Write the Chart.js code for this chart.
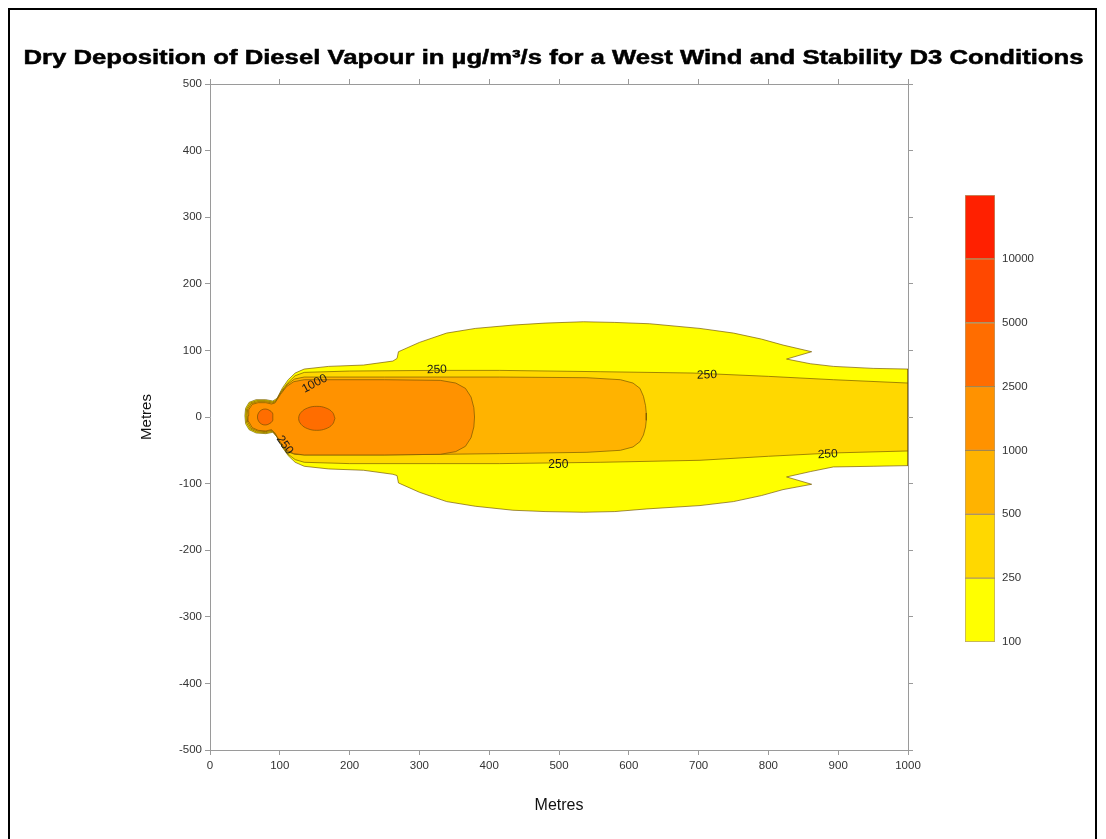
<!DOCTYPE html>
<html>
<head>
<meta charset="utf-8">
<script src="https://cdn.jsdelivr.net/npm/chart.js@4.4.1/dist/chart.umd.min.js"></script>
<style>
  html, body { margin: 0; padding: 0; background: #fff; }
  #wrap { position: relative; width: 1106px; height: 839px; overflow: hidden; }
  #frame { position: absolute; left: 8px; top: 8px; width: 1085px; height: 900px; border: 2px solid #000; }
  #main { position: absolute; left: 0; top: 0; }
  #bar { position: absolute; left: 965px; top: 180px; }
</style>
</head>
<body>
<div id="wrap">
  <div id="frame"></div>
  <canvas id="main" width="1106" height="839"></canvas>
  <canvas id="bar" width="110" height="480"></canvas>
</div>
<script>
const chartTitle = 'Dry Deposition of Diesel Vapour in µg/m³/s for a West Wind and Stability D3 Conditions';

// contour levels and their fill colours (100 .. >10000)
const levelLabels = ['100', '250', '500', '1000', '2500', '5000', '10000'];
const levelColors = ['#ffff00', '#ffd800', '#ffb300', '#ff9200', '#ff6d00', '#ff4800', '#ff2000'];
const binSpan = [1, 1, 1, 1, 1, 1, 1];

// contour outlines, [metres downwind, metres crosswind], upper and lower edge left -> right
const c100Upper = [[50,2],[51,13],[56,22],[66,26],[80,26],[90,24],[96,28],[104,44],[112,56],[122,66],[135,72],[170,76],[220,78],[262,84],[268,88],[270,98],[300,112],[339,126],[380,133],[434,138],[480,141],[535,143],[580,142],[630,140],[702,133],[750,126],[790,117],[821,108],[862,98],[826,87],[860,80],[893,76],[950,73],[1000,72]];
const c100Lower = [[50,2],[51,-10],[56,-19],[66,-24],[80,-25],[90,-23],[96,-30],[104,-46],[112,-58],[122,-68],[135,-74],[170,-78],[220,-80],[262,-86],[268,-88],[270,-99],[300,-113],[339,-127],[380,-134],[434,-140],[480,-142],[535,-143],[580,-142],[626,-138],[702,-133],[750,-127],[790,-118],[821,-109],[862,-101],[826,-90],[860,-82],[893,-75],[950,-74],[1000,-73]];

const c250Upper = [[51.5,2],[52.5,12.5],[57.5,21],[67,24.5],[80,24.5],[89.5,22.5],[95,25],[103,40],[112,52],[122,62],[135,67],[200,69],[325,70],[415,70],[560,68],[692,66],[800,61],[893,56],[1000,51]];
const c250Lower = [[51.5,2],[52.5,-9],[57.5,-18],[67,-22.5],[80,-23.5],[89.5,-21.5],[95,-28],[103,-44],[112,-56],[122,-64],[135,-68],[200,-70],[325,-70],[415,-70],[560,-68],[702,-65],[800,-59],[893,-54],[1000,-51]];

const c500Upper = [[53,2],[54,12],[59,20],[68,23],[80,23],[89,21],[94,23],[102,37],[111,49],[121,57],[135,60],[250,60],[415,60],[540,59],[588,56],[606,51],[616,43],[621,31],[624,17],[625,6],[625,0]];
const c500Lower = [[53,2],[54,-8],[59,-17],[68,-21],[80,-22],[89,-20],[94,-26],[102,-41],[111,-52],[121,-56],[135,-57],[250,-57],[415,-55],[540,-53],[588,-50],[606,-45],[616,-37],[621,-27],[624,-15],[625,-5],[625,0]];

const c1000Upper = [[54.5,2],[55.5,11],[60.5,19],[69,21.5],[80,21.5],[88,19.5],[93,21],[101,34],[110,46],[120,53],[135,56],[250,56],[330,55],[352,51],[366,43],[374,30],[378,14],[379,0]];
const c1000Lower = [[54.5,2],[55.5,-7],[60.5,-16],[69,-20],[80,-21],[88,-19],[93,-24],[101,-38],[110,-50],[120,-55],[135,-57],[250,-57],[330,-56],[352,-52],[366,-44],[374,-31],[378,-15],[379,0]];

// two small 2500 cores
const c2500Source = [[90,0],[89.5,6],[84.5,10.4],[79,12],[73.5,10.4],[69.5,6],[68,0],[69.5,-6],[73.5,-10.4],[79,-12],[84.5,-10.4],[89.5,-6],[90,0]];
const c2500Core = [[179,-2],[175.5,7],[166,13.6],[153,16],[140,13.6],[130.5,7],[127,-2],[130.5,-11],[140,-17.6],[153,-20],[166,-17.6],[175.5,-11],[179,-2]];

// contour labels on the lines
const contourLabels = [
  { text: '250', x: 325, y: 71, angle: -2 },
  { text: '250', x: 712, y: 63, angle: -2 },
  { text: '250', x: 499, y: -72, angle: 0 },
  { text: '250', x: 885, y: -56, angle: -3 },
  { text: '1000', x: 150, y: 50, angle: -28 },
  { text: '250', x: 107, y: -42, angle: 55 }
];

const lineColor = 'rgba(110,80,0,0.65)';

function toPts(a) {
  return a.map(p => ({ x: p[0], y: p[1] }));
}
function outline(upper, lower) {
  const pts = toPts(upper).concat(toPts(lower.slice().reverse()));
  pts.push({ x: upper[0][0], y: upper[0][1] });
  return pts;
}
function area(pts, color, tension) {
  return {
    data: pts,
    backgroundColor: color,
    borderColor: lineColor,
    borderWidth: 1,
    fill: 'shape',
    pointRadius: 0,
    tension: tension || 0
  };
}

Chart.defaults.font.family = '"Liberation Sans", Arial, sans-serif';
Chart.defaults.color = '#333';

const labelPlugin = {
  id: 'contourLabels',
  afterDatasetsDraw(chart) {
    const ctx = chart.ctx;
    const xs = chart.scales.x, ys = chart.scales.y;
    ctx.save();
    ctx.font = '12px "Liberation Sans", Arial, sans-serif';
    ctx.fillStyle = '#1a1a1a';
    ctx.textAlign = 'center';
    ctx.textBaseline = 'middle';
    contourLabels.forEach(l => {
      ctx.save();
      ctx.translate(xs.getPixelForValue(l.x), ys.getPixelForValue(l.y));
      ctx.rotate(l.angle * Math.PI / 180);
      ctx.fillText(l.text, 0, 0);
      ctx.restore();
    });
    ctx.restore();
  }
};

// wide heavy title across the whole picture
const titlePlugin = {
  id: 'wideTitle',
  afterDraw(chart) {
    const ctx = chart.ctx;
    ctx.save();
    ctx.font = 'bold 20px "Liberation Sans", Arial, sans-serif';
    ctx.fillStyle = '#000';
    ctx.strokeStyle = '#000';
    ctx.lineWidth = 0.5;
    ctx.textAlign = 'center';
    ctx.textBaseline = 'middle';
    const w = ctx.measureText(chartTitle).width;
    ctx.translate(553.5, 58);
    ctx.scale(1060 / w, 1);
    ctx.fillText(chartTitle, 0, 0);
    ctx.strokeText(chartTitle, 0, 0);
    ctx.restore();
  }
};

const axisGrid = { drawOnChartArea: false, tickLength: 5, color: '#9a9a9a' };
const axisBorder = { color: '#9a9a9a' };

new Chart(document.getElementById('main'), {
  type: 'line',
  data: {
    datasets: [
      // innermost first so it is drawn on top
      area(toPts(c2500Source), levelColors[4], 0.4),
      area(toPts(c2500Core), levelColors[4], 0.4),
      area(outline(c1000Upper, c1000Lower), levelColors[3]),
      area(outline(c500Upper, c500Lower), levelColors[2]),
      area(outline(c250Upper, c250Lower), levelColors[1]),
      area(outline(c100Upper, c100Lower), levelColors[0])
    ]
  },
  options: {
    responsive: false,
    animation: false,
    events: [],
    layout: { padding: { left: 0, bottom: 20, top: 74, right: 0 } },
    plugins: {
      legend: { display: false },
      tooltip: { enabled: false },
      title: { display: false }
    },
    scales: {
      x: {
        type: 'linear', position: 'bottom', min: 0, max: 1000,
        ticks: { stepSize: 100, font: { size: 11.5 }, color: '#333', padding: 4, maxRotation: 0, callback: v => String(v) },
        title: { display: true, text: 'Metres', color: '#111', font: { size: 16 }, padding: { top: 0, bottom: 4 } },
        grid: axisGrid, border: axisBorder,
        afterFit: s => { s.height = 69; }
      },
      x2: {
        type: 'linear', position: 'top', min: 0, max: 1000,
        ticks: { stepSize: 100, display: false },
        grid: axisGrid, border: axisBorder,
        afterFit: s => { s.height = 10; }
      },
      y: {
        type: 'linear', position: 'left', min: -500, max: 500,
        ticks: { stepSize: 100, font: { size: 11.5 }, color: '#333', padding: 3, callback: v => String(v) },
        title: { display: true, text: 'Metres', color: '#111', font: { size: 15 }, padding: { top: 138, bottom: 0 } },
        grid: axisGrid, border: axisBorder,
        afterFit: s => { s.width = 210; }
      },
      y2: {
        type: 'linear', position: 'right', min: -500, max: 500,
        ticks: { stepSize: 100, display: false },
        grid: axisGrid, border: axisBorder,
        afterFit: s => { s.width = 198; }
      }
    }
  },
  plugins: [labelPlugin, titlePlugin]
});

// colour scale
new Chart(document.getElementById('bar'), {
  type: 'bar',
  data: {
    labels: [''],
    datasets: levelColors.map((c, i) => ({
      data: [binSpan[i]],
      backgroundColor: c,
      borderColor: 'rgba(120,80,0,0.55)',
      borderWidth: 1,
      borderSkipped: false,
      barPercentage: 1,
      categoryPercentage: 1
    }))
  },
  options: {
    responsive: false,
    animation: false,
    events: [],
    layout: { padding: { top: 15, bottom: 18, left: 0, right: 0 } },
    plugins: { legend: { display: false }, tooltip: { enabled: false } },
    scales: {
      x: { display: false, stacked: true },
      y: {
        stacked: true, position: 'right', min: 0, max: 7,
        ticks: { stepSize: 1, font: { size: 11.5 }, color: '#333', padding: 7, callback: v => levelLabels[v] || '' },
        grid: { display: false, drawTicks: false },
        border: { display: false },
        afterFit: s => { s.width = 80; }
      }
    }
  }
});
</script>
</body>
</html>
